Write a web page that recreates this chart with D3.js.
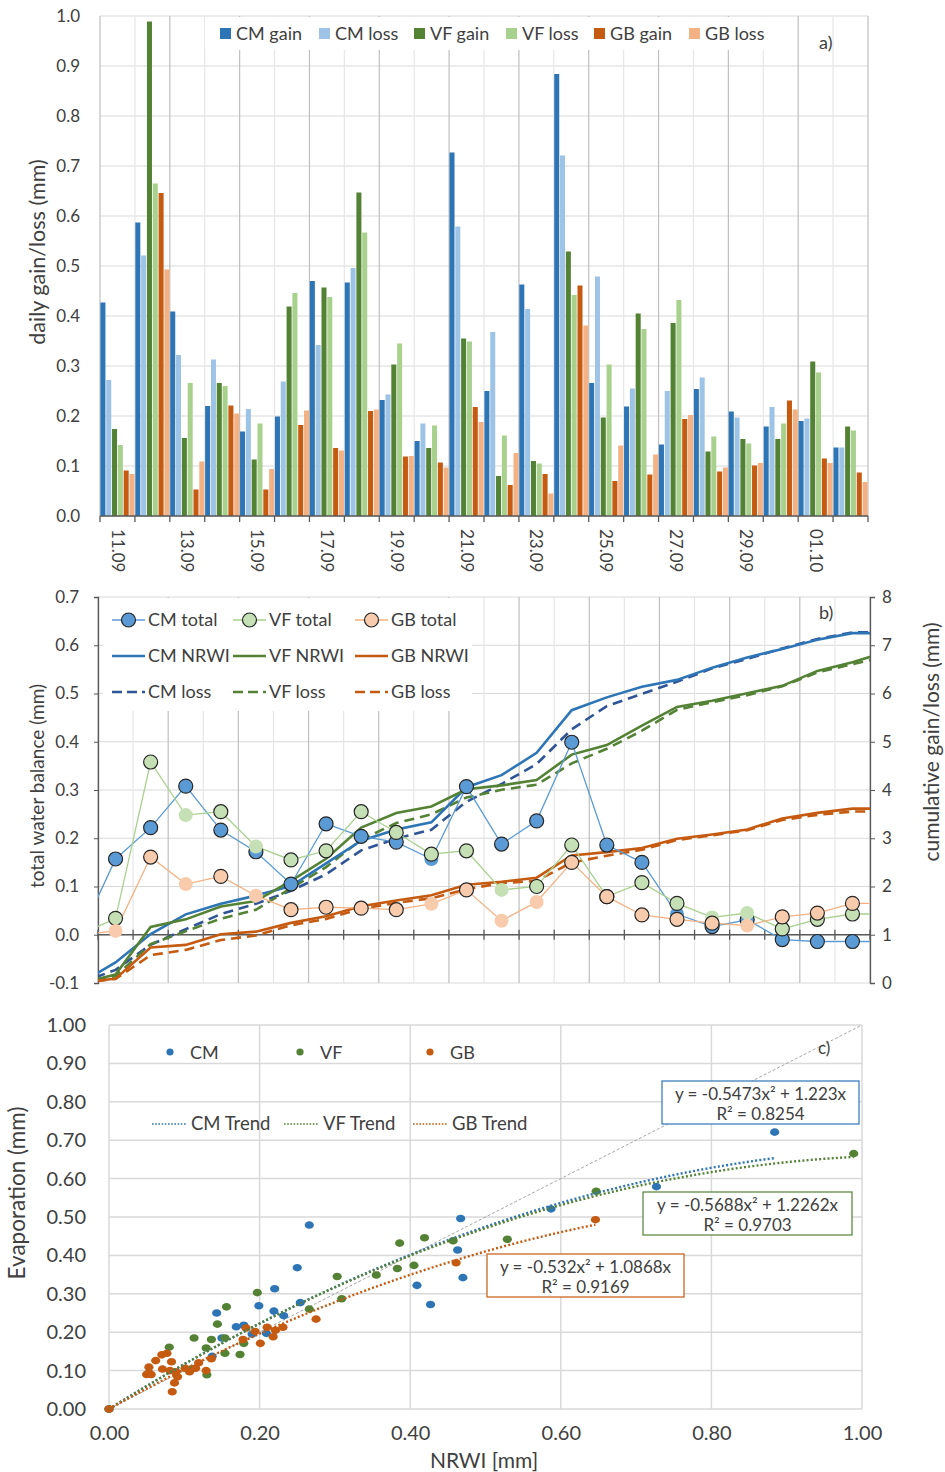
<!DOCTYPE html>
<html>
<head>
<meta charset="utf-8">
<script src="https://cdn.jsdelivr.net/npm/d3@7"></script>
<style>
  body { margin: 0; background: #fff; }
  svg text { font-family: Lato, "Open Sans", sans-serif; fill: #404040; }
</style>
</head>
<body>
<svg id="chart" width="945" height="1472"></svg>
<script>
// ---------- daily gain / loss per surface (mm) ----------
const days = ["11.09","12.09","13.09","14.09","15.09","16.09","17.09","18.09","19.09","20.09","21.09",
              "22.09","23.09","24.09","25.09","26.09","27.09","28.09","29.09","30.09","01.10","02.10"];
const cmGain = [0.427,0.587,0.409,0.220,0.169,0.199,0.470,0.467,0.232,0.150,0.727,0.250,0.463,0.884,0.266,0.219,0.143,0.254,0.209,0.179,0.190,0.137];
const cmLoss = [0.272,0.521,0.322,0.313,0.214,0.269,0.342,0.496,0.243,0.185,0.579,0.368,0.414,0.721,0.479,0.255,0.250,0.277,0.197,0.218,0.195,0.137];
const vfGain = [0.174,0.989,0.156,0.266,0.113,0.419,0.457,0.647,0.303,0.136,0.355,0.080,0.110,0.529,0.197,0.405,0.386,0.129,0.154,0.154,0.309,0.179];
const vfLoss = [0.142,0.665,0.266,0.260,0.185,0.446,0.438,0.567,0.345,0.181,0.349,0.161,0.105,0.442,0.303,0.374,0.432,0.159,0.145,0.185,0.287,0.171];
const gbGain = [0.091,0.646,0.053,0.221,0.053,0.182,0.136,0.210,0.119,0.107,0.218,0.062,0.084,0.461,0.070,0.083,0.194,0.089,0.101,0.231,0.115,0.087];
const gbLoss = [0.084,0.493,0.109,0.205,0.094,0.211,0.131,0.213,0.120,0.097,0.188,0.126,0.045,0.381,0.141,0.123,0.202,0.097,0.106,0.213,0.106,0.068];
const yTicksA = [0,0.1,0.2,0.3,0.4,0.5,0.6,0.7,0.8,0.9,1.0];

// ---------- water balance (10.09 ... 03.10, first and last day fall outside the axis) ----------
const balanceDays = ["10.09", ...days, "03.10"];
const cmTotal = [0,0.157,0.222,0.308,0.217,0.172,0.105,0.230,0.204,0.192,0.157,0.307,0.188,0.236,0.399,0.186,0.150,0.043,0.017,0.031,-0.010,-0.014,-0.014,-0.014];
const vfTotal = [0,0.034,0.358,0.248,0.255,0.183,0.155,0.174,0.255,0.212,0.167,0.174,0.093,0.100,0.186,0.079,0.108,0.065,0.036,0.045,0.012,0.032,0.043,0.043];
const gbTotal = [0,0.008,0.161,0.105,0.121,0.081,0.052,0.057,0.055,0.052,0.064,0.093,0.029,0.068,0.150,0.079,0.041,0.032,0.024,0.019,0.037,0.045,0.065,0.065];
// 1 = marker with dark rim, 0 = plain marker, null = no marker
const cmRim = [null,1,1,1,1,1,1,1,1,1,0,1,1,1,1,1,1,0,1,1,1,1,1,null];
const vfRim = [null,1,1,0,1,0,1,1,1,1,1,1,0,1,1,1,1,1,0,0,1,1,1,null];
const gbRim = [null,0,1,0,1,0,1,1,1,1,0,1,0,0,1,1,1,1,1,0,1,1,1,null];
const cmNrwiCum = [0,0.427,1.014,1.423,1.643,1.812,2.011,2.481,2.948,3.180,3.330,4.057,4.307,4.770,5.654,5.920,6.139,6.282,6.536,6.745,6.924,7.114,7.251,7.251];
const cmLossCum = [0,0.272,0.793,1.115,1.428,1.642,1.911,2.253,2.749,2.992,3.177,3.756,4.124,4.538,5.259,5.738,5.993,6.243,6.520,6.717,6.935,7.130,7.267,7.267];
const vfNrwiCum = [0,0.174,1.163,1.319,1.585,1.698,2.117,2.574,3.221,3.524,3.660,4.015,4.095,4.205,4.734,4.931,5.336,5.722,5.851,6.005,6.159,6.468,6.647,6.870];
const vfLossCum = [0,0.142,0.807,1.073,1.333,1.518,1.964,2.402,2.969,3.314,3.495,3.844,4.005,4.110,4.552,4.855,5.229,5.661,5.820,5.965,6.150,6.437,6.608,6.770];
const gbNrwiCum = [0,0.091,0.737,0.790,1.011,1.064,1.246,1.382,1.592,1.711,1.818,2.036,2.098,2.182,2.643,2.713,2.796,2.990,3.079,3.180,3.411,3.526,3.613,3.613];
const gbLossCum = [0,0.084,0.577,0.686,0.891,0.985,1.196,1.327,1.540,1.660,1.757,1.945,2.071,2.116,2.497,2.638,2.761,2.963,3.060,3.166,3.379,3.485,3.553,3.553];
const yTicksB = [-0.1,0,0.1,0.2,0.3,0.4,0.5,0.6,0.7];
const yTicksB2 = [0,1,2,3,4,5,6,7,8];

// ---------- evaporation vs NRWI ----------
const vfExtraNrwi = [0.383,0.144,0.130];
const vfExtraEvap = [0.366,0.221,0.089];
const gbExtraNrwi = [0.050,0.056,0.077,0.071,0.081,0.129,0.178,0.201,0.275];
const gbExtraEvap = [0.090,0.090,0.145,0.104,0.100,0.100,0.181,0.171,0.234];
const trendA = [-0.5473,-0.5688,-0.532];
const trendB = [1.223,1.2262,1.0868];
const trendR2 = [0.8254,0.9703,0.9169];
const xTicksC = [0,0.2,0.4,0.6,0.8,1.0];
const yTicksC = [0,0.1,0.2,0.3,0.4,0.5,0.6,0.7,0.8,0.9,1.0];

// ---------- colours ----------
const C = {
  cmDark:"#2E75B6", cmLight:"#9DC3E6", cmMid:"#5B9BD5", cmNavy:"#2F5597",
  vfDark:"#548235", vfLight:"#A9D18E", vfPale:"#C5E0B4",
  gbDark:"#C55A11", gbLight:"#F4B183", gbPale:"#F8CBAD",
  grid:"#d9d9d9", gridMajor:"#bfbfbf", gridMinor:"#e6e6e6", axis:"#595959", rim:"#262626"
};

const svg = d3.select("#chart");
svg.append("rect").attr("width",945).attr("height",1472).attr("fill","#fff");

function hline(g, x1, x2, y, color, w) {
  g.append("line").attr("x1",x1).attr("x2",x2).attr("y1",y).attr("y2",y).attr("stroke",color).attr("stroke-width",w);
}
function vline(g, x, y1, y2, color, w) {
  g.append("line").attr("x1",x).attr("x2",x).attr("y1",y1).attr("y2",y2).attr("stroke",color).attr("stroke-width",w);
}

// =====================================================================
// a) daily gain / loss columns
// =====================================================================
(function panelA() {
  const g = svg.append("g");
  const xa = d3.scaleBand().domain(days).range([100, 868]);
  const ya = d3.scaleLinear().domain([0, 1]).range([516, 16]);
  const edge = k => k < days.length ? xa(days[k]) : xa.range()[1];

  yTicksA.forEach(t => hline(g, 100, 868, ya(t), C.grid, 1.2));
  d3.range(days.length + 1).forEach(k => vline(g, edge(k), ya(1), ya(0), k % 2 === 0 ? C.gridMajor : C.gridMinor, 1.2));

  // legend background hides the grid behind it
  g.append("rect").attr("x",205).attr("y",17).attr("width",585).attr("height",33).attr("fill","#fff");

  const series = [
    {name:"CM gain", v:cmGain, c:C.cmDark}, {name:"CM loss", v:cmLoss, c:C.cmLight},
    {name:"VF gain", v:vfGain, c:C.vfDark}, {name:"VF loss", v:vfLoss, c:C.vfLight},
    {name:"GB gain", v:gbGain, c:C.gbDark}, {name:"GB loss", v:gbLoss, c:C.gbLight}
  ];
  const sub = d3.scaleBand().domain(series.map(s => s.name)).range([0, xa.bandwidth()]);
  series.forEach(s => {
    g.append("g").selectAll("rect").data(s.v).join("rect")
      .attr("x", (d, i) => xa(days[i]) + sub(s.name) + 0.4)
      .attr("width", sub.bandwidth() - 0.8)
      .attr("y", d => ya(d))
      .attr("height", d => ya(0) - ya(d))
      .attr("fill", s.c);
  });

  // y axis
  const ay = g.append("g").attr("transform","translate(100,0)")
    .call(d3.axisLeft(ya).tickValues(yTicksA).tickFormat(d => d.toFixed(1)).tickSize(0).tickPadding(20));
  ay.select(".domain").remove();
  ay.selectAll("text").style("font-size","17px").attr("fill","#404040");

  // x axis: line, boundary ticks, rotated labels every second day
  hline(g, 100, 868, ya(0), C.axis, 1.3);
  d3.range(days.length + 1).forEach(k => vline(g, edge(k), ya(0), ya(0) + 6, C.axis, 1.3));
  const ax = g.append("g").attr("transform", `translate(0,${ya(0)})`)
    .call(d3.axisBottom(xa).tickValues(days.filter((d, i) => i % 2 === 0)).tickSize(0));
  ax.select(".domain").remove();
  ax.selectAll("text").style("font-size","17px").attr("fill","#404040")
    .attr("transform","rotate(90)").attr("x",13).attr("y",0).attr("dy","0.35em").style("text-anchor","start");

  // legend
  const lx = [220, 319, 414, 506, 594, 689];
  series.forEach((s, i) => {
    g.append("rect").attr("x", lx[i]).attr("y", 28).attr("width", 11).attr("height", 11).attr("fill", s.c);
    g.append("text").attr("x", lx[i] + 16).attr("y", 34).attr("dy","0.35em").style("font-size","18px").text(s.name);
  });
  g.append("text").attr("x",819).attr("y",43).attr("dy","0.35em").style("font-size","18px").text("a)");
  g.append("text").attr("transform","translate(37,252) rotate(-90)").attr("text-anchor","middle")
    .attr("dy","0.35em").style("font-size","21.5px").text("daily gain/loss (mm)");
})();

// =====================================================================
// b) total water balance and cumulative gain / loss
// =====================================================================
(function panelB() {
  const g = svg.append("g");
  const X0 = 98, X1 = 870;
  const xb = d3.scaleLinear().domain([0, days.length]).range([X0, X1]);
  const yb = d3.scaleLinear().domain([-0.1, 0.7]).range([983, 597]);
  const yr = d3.scaleLinear().domain([0, 8]).range([983, 597]);
  const px = i => xb(i - 0.5);   // balanceDays[i] sits in the middle of its day

  yTicksB.forEach(t => hline(g, X0, X1, yb(t), C.grid, 1.2));
  d3.range(days.length + 1).forEach(k => vline(g, xb(k), yb(0.7), yb(-0.1), k % 2 === 0 ? C.gridMajor : C.gridMinor, 1.2));

  g.append("rect").attr("x",103).attr("y",598).attr("width",369).attr("height",113).attr("fill","#fff");

  // axes
  const al = g.append("g").attr("transform",`translate(${X0},0)`)
    .call(d3.axisLeft(yb).tickValues(yTicksB).tickFormat(d => d.toFixed(1)).tickSize(4).tickPadding(15));
  al.select(".domain").attr("stroke", C.axis).attr("stroke-width",1.3);
  al.selectAll("line").attr("stroke", C.axis);
  al.selectAll("text").style("font-size","17px").attr("fill","#404040");
  const ar = g.append("g").attr("transform",`translate(${X1},0)`)
    .call(d3.axisRight(yr).tickValues(yTicksB2).tickSize(5).tickPadding(7));
  ar.select(".domain").attr("stroke", C.axis).attr("stroke-width",1.3);
  ar.selectAll("line").attr("stroke", C.axis);
  ar.selectAll("text").style("font-size","17px").attr("fill","#404040");
  hline(g, X0, X1, yb(0), C.axis, 1.3);
  d3.range(days.length + 1).forEach(k => vline(g, xb(k), yb(0) - 5, yb(0) + 5, C.axis, 1.3));

  const clipId = "clipB";
  g.append("clipPath").attr("id", clipId).append("rect").attr("x",X0).attr("y",597).attr("width",X1 - X0).attr("height",386);
  const plot = g.append("g").attr("clip-path",`url(#${clipId})`);

  const cumLine = d3.line().x((d, i) => px(i)).y(d => yr(d));
  const balLine = d3.line().x((d, i) => px(i)).y(d => yb(d));

  const cum = [
    {v:cmLossCum, c:C.cmNavy, dash:"10,6"}, {v:vfLossCum, c:C.vfDark, dash:"10,6"}, {v:gbLossCum, c:C.gbDark, dash:"10,6"},
    {v:cmNrwiCum, c:C.cmDark, dash:null}, {v:vfNrwiCum, c:C.vfDark, dash:null}, {v:gbNrwiCum, c:C.gbDark, dash:null}
  ];
  cum.forEach(s => {
    plot.append("path").attr("d", cumLine(s.v)).attr("fill","none").attr("stroke", s.c)
      .attr("stroke-width", 2.6).attr("stroke-dasharray", s.dash);
  });

  const totals = [
    {v:cmTotal, rim:cmRim, line:C.cmMid, fill:C.cmMid},
    {v:vfTotal, rim:vfRim, line:C.vfLight, fill:C.vfPale},
    {v:gbTotal, rim:gbRim, line:C.gbLight, fill:C.gbPale}
  ];
  totals.forEach(s => {
    plot.append("path").attr("d", balLine(s.v)).attr("fill","none").attr("stroke", s.line).attr("stroke-width", 1.3);
  });
  totals.forEach(s => {
    const pts = s.v.map((d, i) => ({d, i, rim: s.rim[i]})).filter(p => p.rim !== null);
    plot.append("g").selectAll("circle").data(pts).join("circle")
      .attr("cx", p => px(p.i)).attr("cy", p => yb(p.d)).attr("r", 7)
      .attr("fill", s.fill)
      .attr("stroke", p => p.rim ? C.rim : "none").attr("stroke-width", 1.2);
  });

  // legend
  const cols = [112, 233, 355];
  const rows = [620, 656, 692];
  const leg = [
    [{t:"CM total", c:C.cmMid, f:C.cmMid, w:1.3, m:true}, {t:"VF total", c:C.vfLight, f:C.vfPale, w:1.3, m:true}, {t:"GB total", c:C.gbLight, f:C.gbPale, w:1.3, m:true}],
    [{t:"CM NRWI", c:C.cmDark, w:2.6}, {t:"VF NRWI", c:C.vfDark, w:2.6}, {t:"GB NRWI", c:C.gbDark, w:2.6}],
    [{t:"CM loss", c:C.cmNavy, w:2.6, dash:"10,5"}, {t:"VF loss", c:C.vfDark, w:2.6, dash:"10,5"}, {t:"GB loss", c:C.gbDark, w:2.6, dash:"10,5"}]
  ];
  leg.forEach((row, r) => row.forEach((e, k) => {
    const x = cols[k], y = rows[r];
    g.append("line").attr("x1", x).attr("x2", x + 33).attr("y1", y).attr("y2", y)
      .attr("stroke", e.c).attr("stroke-width", e.w).attr("stroke-dasharray", e.dash || null);
    if (e.m) g.append("circle").attr("cx", x + 16.5).attr("cy", y).attr("r", 7).attr("fill", e.f).attr("stroke", C.rim).attr("stroke-width", 1.2);
    g.append("text").attr("x", x + 36).attr("y", y).attr("dy","0.35em").style("font-size","18px").text(e.t);
  }));

  g.append("text").attr("x",819).attr("y",613).attr("dy","0.35em").style("font-size","18px").text("b)");
  g.append("text").attr("transform","translate(37,786) rotate(-90)").attr("text-anchor","middle")
    .attr("dy","0.35em").style("font-size","19px").text("total water balance (mm)");
  g.append("text").attr("transform","translate(932,742) rotate(-90)").attr("text-anchor","middle")
    .attr("dy","0.35em").style("font-size","21px").text("cumulative gain/loss (mm)");
})();

// =====================================================================
// c) evaporation versus NRWI
// =====================================================================
(function panelC() {
  const g = svg.append("g");
  const xc = d3.scaleLinear().domain([0, 1]).range([109, 862]);
  const yc = d3.scaleLinear().domain([0, 1]).range([1409, 1025]);

  yTicksC.forEach(t => hline(g, xc(0), xc(1), yc(t), C.grid, 1.5));
  xTicksC.forEach(t => vline(g, xc(t), yc(1), yc(0), C.grid, 1.5));

  const ay = g.append("g").attr("transform",`translate(${xc(0)},0)`)
    .call(d3.axisLeft(yc).tickValues(yTicksC).tickFormat(d => d.toFixed(2)).tickSize(0).tickPadding(23));
  ay.select(".domain").remove();
  ay.selectAll("text").style("font-size","20px").attr("fill","#404040");
  const ax = g.append("g").attr("transform",`translate(0,${yc(0)})`)
    .call(d3.axisBottom(xc).tickValues(xTicksC).tickFormat(d => d.toFixed(2)).tickSize(0).tickPadding(17));
  ax.select(".domain").remove();
  ax.selectAll("text").style("font-size","20px").attr("fill","#404040");

  const clip = g.append("clipPath").attr("id","clipC");
  clip.append("rect").attr("x", xc(0) - 5).attr("y", yc(1)).attr("width", xc(1) - xc(0) + 5).attr("height", yc(0) - yc(1) + 5);
  const plot = g.append("g").attr("clip-path","url(#clipC)");

  // 1:1 line
  plot.append("path").attr("d", d3.line().x(d => xc(d)).y(d => yc(d))([0, 1]))
    .attr("stroke","#a6a6a6").attr("stroke-width",1).attr("stroke-dasharray","3,2").attr("fill","none");

  const sets = [
    {x:[0, ...cmGain], y:[0, ...cmLoss], c:C.cmDark},
    {x:[0, ...vfGain, ...vfExtraNrwi], y:[0, ...vfLoss, ...vfExtraEvap], c:C.vfDark},
    {x:[0, ...gbGain, ...gbExtraNrwi], y:[0, ...gbLoss, ...gbExtraEvap], c:C.gbDark}
  ];
  sets.forEach(s => {
    plot.append("g").selectAll("ellipse").data(s.x).join("ellipse")
      .attr("cx", d => xc(d)).attr("cy", (d, i) => yc(s.y[i])).attr("rx", 4.6).attr("ry", 3.8).attr("fill", s.c);
  });

  // quadratic trend lines through the origin, as stated in the equation labels
  sets.forEach((s, k) => {
    const xmax = d3.max(s.x);
    const xs = d3.range(0, xmax, 0.005).concat([xmax]);
    plot.append("path")
      .attr("d", d3.line().x(x => xc(x)).y(x => yc(trendA[k] * x * x + trendB[k] * x))(xs))
      .attr("fill","none").attr("stroke", s.c).attr("stroke-width", 2.4).attr("stroke-dasharray","2,2.2");
  });

  // legend
  const names = ["CM", "VF", "GB"];
  const dotX = [170, 300, 430];
  const lineX = [152, 284, 413];
  sets.forEach((s, k) => {
    g.append("circle").attr("cx", dotX[k]).attr("cy", 1052).attr("r", 3.6).attr("fill", s.c);
    g.append("text").attr("x", dotX[k] + 20).attr("y", 1053).attr("dy","0.35em").style("font-size","18px").text(names[k]);
    g.append("line").attr("x1", lineX[k]).attr("x2", lineX[k] + 34).attr("y1", 1124).attr("y2", 1124)
      .attr("stroke", s.c).attr("stroke-width", 1.6).attr("stroke-dasharray","1.6,1.6");
    g.append("text").attr("x", lineX[k] + 39).attr("y", 1124).attr("dy","0.35em").style("font-size","18.5px").text(names[k] + " Trend");
  });

  // equation boxes
  const boxes = [
    {x:662, y:1081, w:197, h:43},
    {x:643, y:1192, w:209, h:43},
    {x:487, y:1254, w:197, h:43}
  ];
  boxes.forEach((b, k) => {
    g.append("rect").attr("x", b.x).attr("y", b.y).attr("width", b.w).attr("height", b.h)
      .attr("fill","#fff").attr("stroke", sets[k].c).attr("stroke-width", 1.2);
    const cx = b.x + b.w / 2;
    g.append("text").attr("x", cx).attr("y", b.y + 13).attr("dy","0.35em").attr("text-anchor","middle")
      .style("font-size","17px").text(`y = ${trendA[k]}x² + ${trendB[k]}x`);
    g.append("text").attr("x", cx).attr("y", b.y + 33).attr("dy","0.35em").attr("text-anchor","middle")
      .style("font-size","17px").text(`R² = ${trendR2[k].toFixed(4)}`);
  });

  g.append("text").attr("x",818).attr("y",1048).attr("dy","0.35em").style("font-size","17px").text("c)");
  g.append("text").attr("transform","translate(17,1193) rotate(-90)").attr("text-anchor","middle")
    .attr("dy","0.35em").style("font-size","22.5px").text("Evaporation (mm)");
  g.append("text").attr("x",484).attr("y",1461).attr("dy","0.35em").attr("text-anchor","middle")
    .style("font-size","21px").text("NRWI [mm]");
})();
</script>
</body>
</html>
